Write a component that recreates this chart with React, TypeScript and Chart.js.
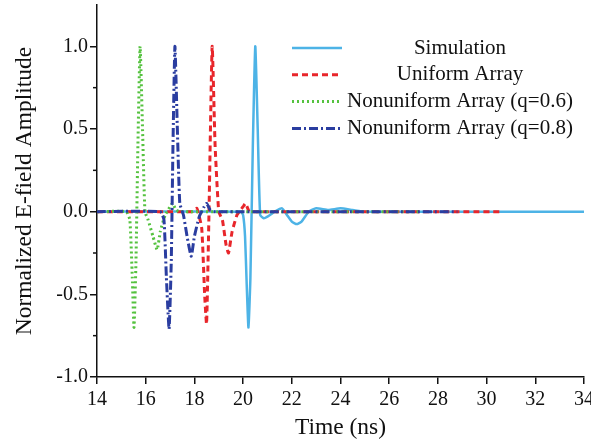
import React, { useEffect, useRef } from "react";
import { Chart, registerables } from "chart.js";
Chart.register(...registerables);

// ---- data ----
const simT = [14, 19.9, 20.0, 20.08, 20.15, 20.22, 20.3, 20.4, 20.5, 20.6, 20.7, 20.85, 21.0, 21.3, 21.6, 21.8, 22.0, 22.2, 22.4, 22.7, 23.0, 23.5, 24.0, 24.5, 25.0, 34];
const simV = [0, 0, -0.02, -0.15, -0.45, -0.7, -0.4, 0.4, 1.0, 0.5, -0.02, -0.04, -0.03, 0.0, 0.02, -0.02, -0.06, -0.075, -0.06, 0.0, 0.02, 0.01, 0.02, 0.01, 0, 0];

const uniT = [14, 17.9, 18.1, 18.3, 18.42, 18.5, 18.6, 18.73, 18.85, 19.0, 19.15, 19.3, 19.4, 19.55, 19.75, 20.0, 20.1, 20.25, 20.4, 30.6];
const uniV = [0, 0, 0.02, -0.1, -0.5, -0.68, 0.0, 1.0, 0.4, 0.0, -0.05, -0.2, -0.25, -0.12, -0.02, 0.03, 0.05, 0.0, 0, 0];

const q6T = [14, 15.2, 15.35, 15.45, 15.52, 15.6, 15.68, 15.77, 15.87, 15.97, 16.1, 16.3, 16.47, 16.6, 16.8, 17.0, 17.1, 17.25, 17.4, 27.3];
const q6V = [0, 0, -0.05, -0.4, -0.7, -0.3, 0.4, 1.0, 0.5, 0.0, -0.05, -0.15, -0.23, -0.12, -0.02, 0.03, 0.05, 0.01, 0, 0];

const q8T = [14, 16.6, 16.75, 16.85, 16.96, 17.05, 17.12, 17.2, 17.3, 17.4, 17.55, 17.7, 17.87, 18.0, 18.2, 18.4, 18.5, 18.65, 18.8, 28.8];
const q8V = [0, 0, -0.05, -0.4, -0.71, -0.3, 0.4, 1.0, 0.5, 0.05, -0.02, -0.15, -0.27, -0.15, -0.03, 0.03, 0.05, 0.01, 0, 0];

const seriesNames = ["Simulation", "Uniform Array", "Nonuniform Array (q=0.6)", "Nonuniform Array (q=0.8)"];
const xTicks = [14, 16, 18, 20, 22, 24, 26, 28, 30, 32, 34];
const yTicks = [-1.0, -0.5, 0.0, 0.5, 1.0];
const yMinorTicks = [-0.75, -0.25, 0.25, 0.75];

const FONT = "'Liberation Serif', 'Times New Roman', serif";

const toPts = (t: number[], v: number[]) => t.map((x, i) => ({ x, y: v[i] }));

const legendPlugin = {
  id: "customLegend",
  afterDatasetsDraw(chart: any) {
    const ctx = chart.ctx;
    const ds = chart.data.datasets;
    ctx.save();
    ds.forEach((d: any, i: number) => {
      const y = 48 + i * 26.8;
      ctx.beginPath();
      ctx.strokeStyle = d.borderColor;
      ctx.lineWidth = d.borderWidth;
      ctx.setLineDash(d.borderDash || []);
      ctx.moveTo(292, y);
      ctx.lineTo(342, y);
      ctx.stroke();
      ctx.setLineDash([]);
      ctx.fillStyle = "#111";
      ctx.font = `21px ${FONT}`;
      ctx.textAlign = "center";
      ctx.textBaseline = "middle";
      ctx.fillText(d.label, 460, y);
    });
    ctx.restore();
  },
};

const minorTickPlugin = {
  id: "minorTicks",
  afterDraw(chart: any) {
    const ctx = chart.ctx;
    const ys = chart.scales.y;
    const left = chart.chartArea.left;
    ctx.save();
    ctx.strokeStyle = "#111";
    ctx.lineWidth = 1.5;
    yMinorTicks.forEach((v) => {
      const py = ys.getPixelForValue(v);
      ctx.beginPath();
      ctx.moveTo(left - 4, py);
      ctx.lineTo(left, py);
      ctx.stroke();
    });
    ctx.restore();
  },
};

export default function App() {
  const ref = useRef<HTMLCanvasElement | null>(null);
  useEffect(() => {
    if (!ref.current) return;
    const chart = new Chart(ref.current, {
      type: "line",
      data: {
        datasets: [
          { label: seriesNames[0], data: toPts(simT, simV), borderColor: "#4db3e6", borderWidth: 2.5, pointRadius: 0, tension: 0.15, order: 3 },
          { label: seriesNames[1], data: toPts(uniT, uniV), borderColor: "#e8262b", borderWidth: 3, borderDash: [6, 4], pointRadius: 0, tension: 0.15, order: 2 },
          { label: seriesNames[2], data: toPts(q6T, q6V), borderColor: "#55c23f", borderWidth: 3, borderDash: [2, 3], pointRadius: 0, tension: 0.15, order: 1 },
          { label: seriesNames[3], data: toPts(q8T, q8V), borderColor: "#2a3da0", borderWidth: 3, borderDash: [9, 3, 2, 3], pointRadius: 0, tension: 0.15, order: 0 },
        ],
      },
      options: {
        responsive: false,
        animation: false,
        layout: { padding: { top: 5, right: 7, left: 0, bottom: 0 } },
        plugins: { legend: { display: false }, tooltip: { enabled: false } },
        scales: {
          x: {
            type: "linear",
            min: 14,
            max: 34,
            afterBuildTicks: (s: any) => { s.ticks = xTicks.map((v) => ({ value: v })); },
            afterFit: (s: any) => { s.height = 65; s.paddingLeft = 0; s.paddingRight = 0; },
            grid: { display: true, drawOnChartArea: false, drawTicks: true, tickLength: 7, color: "#111", lineWidth: 1.5 },
            border: { display: true, color: "#111", width: 1.5 },
            ticks: { color: "#111", font: { family: FONT, size: 20 }, padding: 4, maxRotation: 0, autoSkip: false, callback: (v: any) => String(v) },
            title: { display: true, text: "Time (ns)", color: "#111", font: { family: FONT, size: 23.5 }, padding: { top: 5, bottom: 0 } },
          },
          y: {
            min: -1,
            max: 1.25,
            afterBuildTicks: (s: any) => { s.ticks = yTicks.map((v) => ({ value: v })); },
            afterFit: (s: any) => { s.width = 97; s.paddingTop = 0; s.paddingBottom = 0; },
            grid: { display: true, drawOnChartArea: false, drawTicks: true, tickLength: 7, color: "#111", lineWidth: 1.5 },
            border: { display: true, color: "#111", width: 1.5 },
            ticks: { color: "#111", font: { family: FONT, size: 20 }, padding: 2, autoSkip: false, callback: (v: any) => Number(v).toFixed(1) },
            title: { display: true, text: "Normalized E-field Amplitude", color: "#111", font: { family: FONT, size: 23.5 }, padding: { top: 11, bottom: 0 } },
          },
        },
      },
      plugins: [legendPlugin, minorTickPlugin],
    });
    return () => chart.destroy();
  }, []);
  return (
    <div style={{ position: "fixed", left: 0, top: 0, width: 591, height: 442, background: "#fff" }}>
      <canvas ref={ref} width={591} height={442} />
    </div>
  );
}
